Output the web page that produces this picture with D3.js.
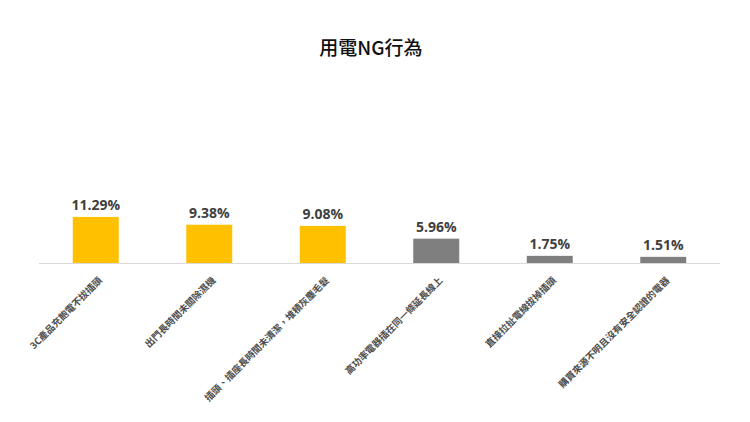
<!DOCTYPE html>
<html>
<head>
<meta charset="utf-8">
<script src="https://cdn.jsdelivr.net/npm/d3@7"></script>
<style>
  body { margin: 0; background: #fff; }
  svg { display: block; }
  .title { font-family: "Noto Sans CJK TC", "Noto Sans", sans-serif; font-size: 19px; font-weight: 500; fill: #111; }
  .valueLabel { font-family: "Open Sans", "Noto Sans", sans-serif; font-size: 14px; font-weight: 700; fill: #404040; }
  .catLabel { font-family: "Noto Sans CJK TC", sans-serif; font-size: 9.5px; font-weight: 700; fill: #4d4d4d; }
</style>
</head>
<body>
<div id="chart"></div>
<script>
const categories = [
  "3C產品充飽電不拔插頭",
  "出門長時間未關除濕機",
  "插頭、插座長時間未清潔，堆積灰塵毛髮",
  "高功率電器插在同一條延長線上",
  "直接拉扯電線拔掉插頭",
  "購買來源不明且沒有安全認證的電器"
];
const values = [11.29, 9.38, 9.08, 5.96, 1.75, 1.51];
const barColors = ["#FFC000", "#FFC000", "#FFC000", "#7F7F7F", "#7F7F7F", "#7F7F7F"];

const width = 750, height = 422;
const margin = { top: 214, right: 30, bottom: 159, left: 39 };

const svg = d3.select("#chart").append("svg")
  .attr("width", width)
  .attr("height", height);

svg.append("text")
  .attr("class", "title")
  .attr("x", 371)
  .attr("y", 55)
  .style("text-anchor", "middle")
  .text("用電NG行為");

const x = d3.scaleBand()
  .domain(categories)
  .range([margin.left, width - margin.right])
  .paddingInner(0.595)
  .paddingOuter(0.2975);

const y = d3.scaleLinear()
  .domain([0, 12])
  .range([height - margin.bottom, margin.top]);

// baseline
svg.append("line")
  .attr("x1", margin.left)
  .attr("x2", width - margin.right)
  .attr("y1", y(0) + 0.5)
  .attr("y2", y(0) + 0.5)
  .style("stroke", "#D9D9D9")
  .style("stroke-width", 1);

svg.selectAll("rect.bar")
  .data(values)
  .enter()
  .append("rect")
  .attr("class", "bar")
  .attr("x", (d, i) => x(categories[i]))
  .attr("width", x.bandwidth())
  .attr("y", d => y(d))
  .attr("height", d => y(0) - y(d))
  .style("fill", (d, i) => barColors[i]);

svg.selectAll("text.valueLabel")
  .data(values)
  .enter()
  .append("text")
  .attr("class", "valueLabel")
  .attr("x", (d, i) => x(categories[i]) + x.bandwidth() / 2)
  .attr("y", d => y(d) - 7)
  .style("text-anchor", "middle")
  .text(d => d3.format(".2f")(d) + "%");

svg.selectAll("text.catLabel")
  .data(categories)
  .enter()
  .append("text")
  .attr("class", "catLabel")
  .attr("transform", d => `translate(${x(d) + x.bandwidth() / 2 + 7}, ${y(0) + 18}) rotate(-45)`)
  .style("text-anchor", "end")
  .text(d => d);
</script>
</body>
</html>
